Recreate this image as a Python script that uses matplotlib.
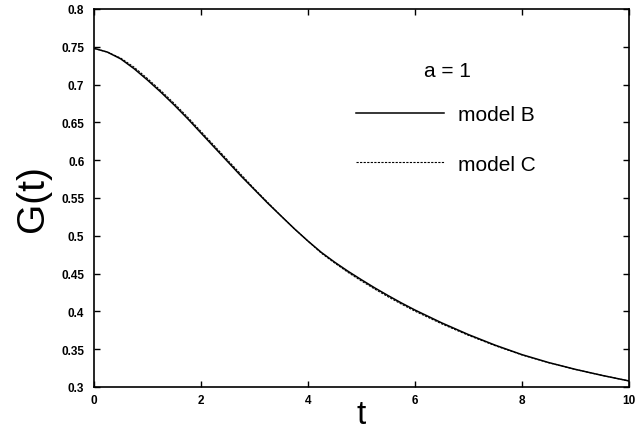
import matplotlib
matplotlib.use("Agg")
import matplotlib.pyplot as plt

t = [0, 0.25, 0.5, 0.75, 1.0, 1.25, 1.5, 1.75, 2.0, 2.25, 2.5, 2.75, 3.0, 3.25, 3.5, 3.75,
     4.0, 4.25, 4.5, 4.75, 5.0, 5.25, 5.5, 5.75, 6.0, 6.5, 7.0, 7.5, 8.0, 8.5, 9.0, 9.5, 10.0]
model_B = [0.748, 0.743, 0.734, 0.721, 0.706, 0.690, 0.673, 0.655, 0.636, 0.617, 0.598,
           0.579, 0.561, 0.543, 0.526, 0.509, 0.493, 0.478, 0.465, 0.453, 0.4418, 0.431,
           0.4208, 0.411, 0.4018, 0.3848, 0.3693, 0.3553, 0.3428, 0.3323, 0.3233, 0.3153,
           0.308]
model_C = [0.748, 0.743, 0.735, 0.723, 0.708, 0.692, 0.675, 0.657, 0.638, 0.619, 0.600,
           0.581, 0.562, 0.544, 0.526, 0.509, 0.493, 0.477, 0.464, 0.4515, 0.4402, 0.4294,
           0.4192, 0.4095, 0.4003, 0.3835, 0.3683, 0.3546, 0.3424, 0.3321, 0.3232, 0.3153,
           0.308]
xticks = [0, 2, 4, 6, 8, 10]
yticks = [0.3, 0.35, 0.4, 0.45, 0.5, 0.55, 0.6, 0.65, 0.7, 0.75, 0.8]
ytick_labels = ["0.3", "0.35", "0.4", "0.45", "0.5", "0.55", "0.6", "0.65", "0.7", "0.75", "0.8"]

plt.rcParams['font.family'] = ['Liberation Sans', 'DejaVu Sans']

fig = plt.figure(figsize=(6.37, 4.31), dpi=100)
ax = fig.add_axes([94/637, 1-388/431, (629-94)/637, (388-10)/431])

ax.plot(t, model_B, color='black', lw=1.1, label='model B')
ax.plot(t, model_C, color='black', lw=0.8, linestyle=(0, (2, 1.2)), label='model C')

ax.set_xlim(0, 10)
ax.set_ylim(0.3, 0.8)
ax.set_xticks(xticks)
ax.set_xticklabels([str(v) for v in xticks], fontsize=8.5, fontweight='bold')
ax.set_yticks(yticks)
ax.set_yticklabels(ytick_labels, fontsize=8.5, fontweight='bold')
ax.tick_params(direction='in', length=4, width=1, top=True, right=True)
ax.tick_params(axis='y', pad=7)
ax.tick_params(axis='x', pad=5)
for s in ax.spines.values():
    s.set_linewidth(1.2)

ax.set_xlabel('t', fontsize=24, labelpad=-5)
ax.set_ylabel('G(t)', fontsize=28, labelpad=7)

ax.text(6.6, 0.718, 'a = 1', fontsize=15, ha='center', va='center')
leg = ax.legend(loc='upper left', bbox_to_anchor=(0.49, 0.745), frameon=False,
                fontsize=15, handlelength=4.2, handletextpad=0.7, labelspacing=1.45,
                borderpad=0, borderaxespad=0)

fig.savefig('out.png', dpi=100)
